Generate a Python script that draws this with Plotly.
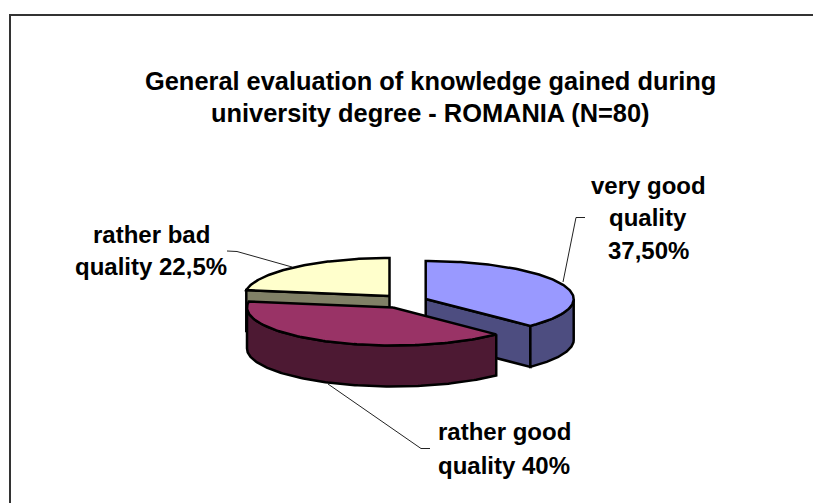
import numpy as np
import plotly.graph_objects as go

# --- data ---
categories = ["very good quality", "rather good quality", "rather bad quality"]
values = [37.5, 40.0, 22.5]
title_lines = ["General evaluation of knowledge gained during",
               "university degree - ROMANIA (N=80)"]
label_lines = [["very good", "quality", "37,50%"],
               ["rather good", "quality 40%"],
               ["rather bad", "quality 22,5%"]]

# --- styling / projection of the tilted pie (pixel canvas) ---
W, H = 813, 503
radii = [148.0, 146.0, 145.0]
RY, DEPTH = 38.0, 41.0
centers = [(425.7, 299.0), (393.0, 307.5), (389.5, 296.0)]
top_colors = ["#9999FF", "#993366", "#FFFFCC"]
side_colors = ["#4D4D80", "#4D1933", "#808066"]
label_xy = [[(648, 185), (648, 217), (648, 250)],
            [(504, 431), (504, 465)],
            [(151, 234), (151, 266)]]
leaders = [[(585, 217.5), (576, 217.5), (563, 282)],
           [(430, 448.5), (421, 448.5), (328, 384)],
           [(227, 251), (237, 251.5), (292, 267)]]

fig = go.Figure()


def point(i, a, drop=0.0):
    c = centers[i]
    return c[0] + radii[i] * np.sin(a), c[1] - RY * np.cos(a) + drop


def poly(xs, ys, color):
    fig.add_trace(go.Scatter(x=list(xs), y=list(ys), mode="lines", fill="toself",
                             fillcolor=color, line=dict(color="black", width=2.5),
                             hoverinfo="skip", showlegend=False))


# cumulative angles, clockwise from 12 o'clock
cum = np.cumsum([0] + values) / sum(values) * 2 * np.pi
spans = [(cum[i], cum[i + 1]) for i in range(len(values))]


def wedge(i):
    a0, a1 = spans[i]
    t = np.linspace(a0, a1, 120)
    c = centers[i]
    x, y = point(i, t)
    return np.r_[c[0], x, c[0]], np.r_[c[1], y, c[1]]


def wall(i, a0, a1):
    t = np.linspace(a0, a1, 120)
    x, y = point(i, t)
    xb, yb = point(i, t[::-1], DEPTH)
    poly(np.r_[x, xb, x[0]], np.r_[y, yb, y[0]], side_colors[i])


def face(i, a):
    c = centers[i]
    x, y = point(i, a)
    poly([c[0], x, x, c[0], c[0]],
         [c[1], y, y + DEPTH, c[1] + DEPTH, c[1]], side_colors[i])


# back slice first, then the right, then the front one
order = [2, 0, 1]
for i in order:
    a0, a1 = spans[i]
    if i == 2:
        face(i, a0)
    if i == 0:
        face(i, a1)
        wall(i, np.pi / 2, a1)
    if i == 1:
        wall(i, a0, 1.5 * np.pi)
    xs, ys = wedge(i)
    poly(xs, ys, top_colors[i])

# leader lines
for pts in leaders:
    fig.add_trace(go.Scatter(x=[p[0] for p in pts], y=[p[1] for p in pts], mode="lines",
                             line=dict(color="#222222", width=1),
                             hoverinfo="skip", showlegend=False))

# chart frame: only the top and left edges fall inside the picture
fig.add_trace(go.Scatter(x=[10, 10, W], y=[H, 15, 15], mode="lines",
                         line=dict(color="#333333", width=2),
                         hoverinfo="skip", showlegend=False))

ann = []
for text, y in zip(title_lines, [81, 113]):
    ann.append(dict(x=430, y=y, text=f"<b>{text}</b>", showarrow=False, xanchor="center",
                    yanchor="middle", font=dict(family="Liberation Sans", size=25.4, color="black")))
for lines, xys in zip(label_lines, label_xy):
    for text, (x, y) in zip(lines, xys):
        ann.append(dict(x=x, y=y, text=f"<b>{text}</b>", showarrow=False, xanchor="center",
                        yanchor="middle", font=dict(family="Liberation Sans", size=24, color="black")))

fig.update_layout(width=W, height=H, margin=dict(l=0, r=0, t=0, b=0),
                  paper_bgcolor="white", plot_bgcolor="white", annotations=ann, showlegend=False,
                  xaxis=dict(range=[0, W], visible=False, fixedrange=True),
                  yaxis=dict(range=[H, 0], visible=False, fixedrange=True))
fig.write_html("out.html", config=dict(displayModeBar=False),
               post_script="document.body.style.margin='0';document.documentElement.style.overflow='hidden';")
